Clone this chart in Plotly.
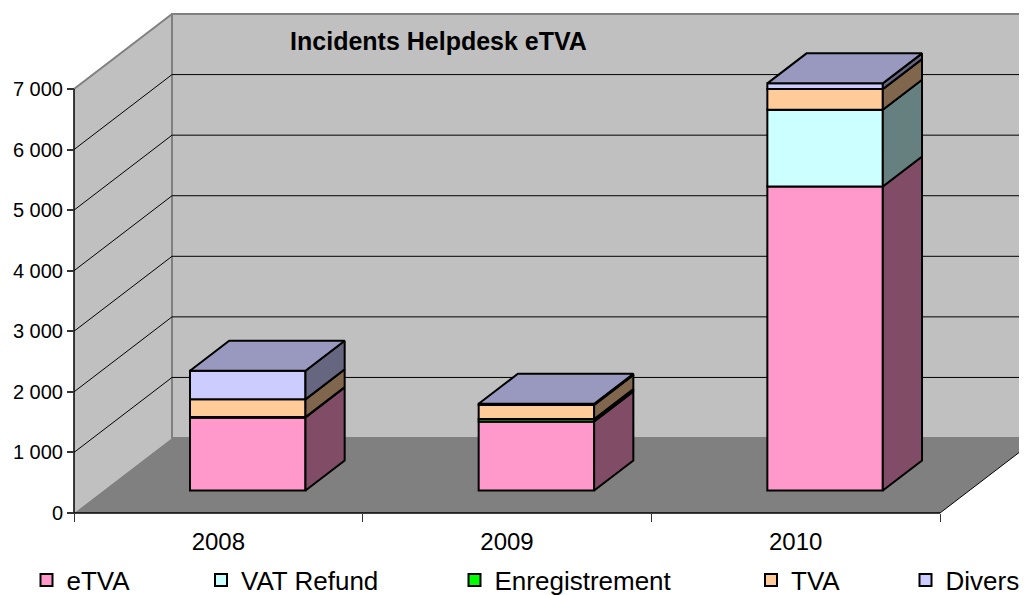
import plotly.graph_objects as go

# ---------------- data ----------------
years = ["2008", "2009", "2010"]
etva = [1205, 1140, 5020]
vat_refund = [0, 0, 1265]
enregistrement = [8, 40, 0]
tva = [292, 233, 342]
divers = [472, 18, 95]
y_ticks = [0, 1000, 2000, 3000, 4000, 5000, 6000, 7000]
y_tick_text = ["0", "1 000", "2 000", "3 000", "4 000", "5 000", "6 000", "7 000"]
wall_max = 7000

series = [
    ("eTVA", etva, "#ff99cc", "#804c66"),
    ("VAT Refund", vat_refund, "#ccffff", "#668080"),
    ("Enregistrement", enregistrement, "#00ff00", "#008000"),
    ("TVA", tva, "#ffcc99", "#80664d"),
    ("Divers", divers, "#ccccff", "#666680"),
]
top_color = "#9999bf"

# ---------------- 3D projection parameters ----------------
DX = 0.3395      # floor depth along x (category units)
DY = 1238.0      # floor depth along y (value units)
F1 = 0.30        # depth of bar front face (fraction of floor depth)
BD = 0.40        # bar depth (fraction of floor depth)
W = 0.40         # bar width (category units)
LW = 2           # outline width
n = len(years)
x0, x1 = -0.5, n - 0.5

fig = go.Figure()

legend_names = ["legend", "legend2", "legend3", "legend4", "legend5"]
cum = [0.0] * n
side_traces = []
for s_idx, (name, vals, col, side) in enumerate(series):
    xs = [i + F1 * DX for i in range(n)]
    bases = [cum[i] + F1 * DY for i in range(n)]
    fig.add_trace(go.Bar(
        x=xs, y=vals, base=bases, width=W, name=name,
        marker=dict(color=col, line=dict(color="black", width=LW)),
        legend=legend_names[s_idx], showlegend=True,
    ))
    for i in range(n):
        v = vals[i]
        if v <= 0:
            continue
        xr = xs[i] + W / 2
        yb = bases[i]
        yt = bases[i] + v
        side_traces.append(go.Scatter(
            x=[xr, xr + BD * DX, xr + BD * DX, xr, xr],
            y=[yb, yb + BD * DY, yt + BD * DY, yt, yb],
            mode="lines", fill="toself", fillcolor=side,
            line=dict(color="black", width=LW), showlegend=False, hoverinfo="skip",
        ))
        cum[i] += v
for t in side_traces:
    fig.add_trace(t)

# top faces
for i in range(n):
    xl = i + F1 * DX - W / 2
    xr = i + F1 * DX + W / 2
    yt = cum[i] + F1 * DY
    fig.add_trace(go.Scatter(
        x=[xl, xr, xr + BD * DX, xl + BD * DX, xl],
        y=[yt, yt, yt + BD * DY, yt + BD * DY, yt],
        mode="lines", fill="toself", fillcolor=top_color,
        line=dict(color="black", width=LW), showlegend=False, hoverinfo="skip",
    ))

# ---------------- walls, floor, gridlines ----------------
shapes = []
shapes.append(dict(type="rect", xref="x", yref="y", x0=x0 + DX, x1=x1 + DX + 1, y0=DY, y1=wall_max + DY,
                   fillcolor="#c0c0c0", line=dict(color="#808080", width=2), layer="below"))
shapes.append(dict(type="path", xref="x", yref="y",
                   path=f"M{x0},{0} L{x0},{wall_max} L{x0 + DX},{wall_max + DY} L{x0 + DX},{DY} Z",
                   fillcolor="#c0c0c0", line=dict(width=0), layer="below"))
shapes.append(dict(type="line", xref="x", yref="y", x0=x0, y0=wall_max, x1=x0 + DX, y1=wall_max + DY,
                   line=dict(color="#808080", width=2), layer="below"))
shapes.append(dict(type="line", xref="x", yref="y", x0=x0 + DX, y0=DY, x1=x0 + DX, y1=wall_max + DY,
                   line=dict(color="#808080", width=2), layer="below"))
shapes.append(dict(type="path", xref="x", yref="y",
                   path=f"M{x0},{0} L{x1},{0} L{x1 + DX},{DY} L{x0 + DX},{DY} Z",
                   fillcolor="#808080", line=dict(width=0), layer="below"))
for v in y_ticks[1:-1]:
    shapes.append(dict(type="line", xref="x", yref="y", x0=x0 + DX, y0=v + DY, x1=x1 + DX + 1, y1=v + DY,
                       line=dict(color="black", width=1), layer="below"))
    shapes.append(dict(type="line", xref="x", yref="y", x0=x0, y0=v, x1=x0 + DX, y1=v + DY,
                       line=dict(color="black", width=1), layer="below"))
shapes.append(dict(type="line", xref="x", yref="y", x0=x0, y0=0, x1=x1, y1=0,
                   line=dict(color="black", width=1.5), layer="below"))
shapes.append(dict(type="line", xref="x", yref="y", x0=x1, y0=0, x1=x1 + DX, y1=DY,
                   line=dict(color="black", width=1), layer="below"))
shapes.append(dict(type="line", xref="x", yref="y", x0=x0, y0=0, x1=x0, y1=wall_max,
                   line=dict(color="black", width=1.5), layer="below"))

# ---------------- layout ----------------
OFF = 8                      # page body margin
W_PX, H_PX = 1027, 595
ml, mt = 70 - OFF, 10 - OFF  # plot area left / top on screen: 70, 10
plot_w = 957
plot_h = 507
px_per_x = 288.67
px_per_y = 0.060571
xr_min = x0 - 4 / px_per_x
xr_max = xr_min + plot_w / px_per_x
yr_min = -4 / px_per_y
yr_max = yr_min + plot_h / px_per_y
mr = W_PX - ml - plot_w
mb = H_PX - mt - plot_h

font_family = "Liberation Sans, Arial, sans-serif"

def paper_x(screen_x):
    return (screen_x - OFF - ml) / plot_w

def paper_y(screen_y):
    return (mt + plot_h - (screen_y - OFF)) / plot_h

legend_x_px = [26.5, 201, 454.5, 751, 905.5]
legends = {}
for k, lname in enumerate(legend_names):
    legends[lname] = dict(orientation="h", yanchor="middle", y=paper_y(580),
                          xanchor="left", x=paper_x(legend_x_px[k]),
                          font=dict(family=font_family, size=26, color="black"),
                          bgcolor="rgba(0,0,0,0)", borderwidth=0)

fig.update_layout(
    width=W_PX, height=H_PX,
    margin=dict(l=ml, r=mr, t=mt, b=mb, autoexpand=False),
    paper_bgcolor="white", plot_bgcolor="white",
    barmode="overlay",
    shapes=shapes,
    title=dict(text="Incidents Helpdesk eTVA", x=paper_x(438.5), xref="paper",
               xanchor="center", y=1 - (41 - OFF) / H_PX, yanchor="middle",
               font=dict(family=font_family, size=25, color="black", weight="bold")),
    xaxis=dict(range=[xr_min, xr_max], tickvals=list(range(n)), ticktext=years,
               ticks="", showgrid=False, zeroline=False, showline=False,
               anchor="free", position=4 / plot_h, ticklabelstandoff=12,
               tickfont=dict(family=font_family, size=24, color="black"),
               minor=dict(tickvals=[x0 + k for k in range(n + 1)], ticks="outside",
                          ticklen=8, tickcolor="#333333", tickwidth=1, showgrid=False)),
    yaxis=dict(range=[yr_min, yr_max], tickvals=y_ticks, ticktext=y_tick_text,
               ticks="outside", ticklen=7, tickcolor="#333333", tickwidth=1.5,
               showgrid=False, zeroline=False, showline=False,
               anchor="free", position=4 / plot_w,
               tickfont=dict(family=font_family, size=20, color="black")),
    **legends,
)

fig.write_html("out.html")
